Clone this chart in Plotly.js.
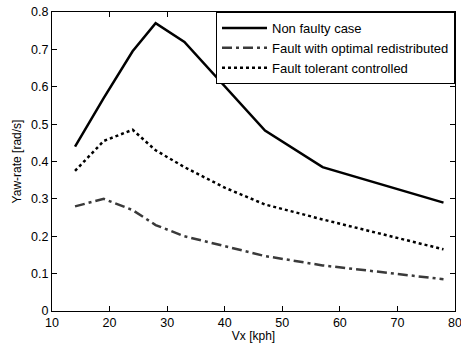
<!DOCTYPE html>
<html><head><meta charset="utf-8">
<script src="https://cdn.plot.ly/plotly-3.0.1.min.js"></script>
<style>body{margin:0;background:#fff}#c{width:461px;height:346px}</style>
</head><body><div id="c"></div>
<script>
const speed = [14, 19, 24, 28, 33, 40, 47, 57, 78];
const nonFaulty = [0.44, 0.57, 0.695, 0.77, 0.72, 0.6, 0.483, 0.385, 0.29];
const optimalRedistributed = [0.28, 0.30, 0.27, 0.23, 0.20, 0.173, 0.147, 0.122, 0.085];
const tolerantControlled = [0.375, 0.455, 0.485, 0.43, 0.385, 0.33, 0.285, 0.245, 0.165];
const seriesNames = ["Non faulty case", "Fault with optimal redistributed", "Fault tolerant controlled"];
const xTicks = [10, 20, 30, 40, 50, 60, 70, 80];
const yTicks = [0, 0.1, 0.2, 0.3, 0.4, 0.5, 0.6, 0.7, 0.8];

const FONT = "Liberation Sans, Arial, sans-serif";
const traces = [
  {x: speed, y: nonFaulty, name: seriesNames[0], mode: "lines", line: {color: "#000", width: 2.5}},
  {x: speed, y: optimalRedistributed, name: seriesNames[1], mode: "lines", line: {color: "#3a3a3a", width: 2.5, dash: "10px,4px,3px,4px"}},
  {x: speed, y: tolerantControlled, name: seriesNames[2], mode: "lines", line: {color: "#000", width: 2.5, dash: "3px,3px"}}
];
const axisCommon = {
  showgrid: false, zeroline: false, showline: true, mirror: "ticks",
  linecolor: "#000", linewidth: 1, ticks: "inside", ticklen: 5, tickcolor: "#000",
  ticklabeloverflow: "allow",
  tickfont: {family: FONT, size: 12.5, color: "#000"}
};
const layout = {
  width: 461, height: 346,
  margin: {l: 52, r: 6, t: 12, b: 35},
  paper_bgcolor: "#fff", plot_bgcolor: "#fff",
  showlegend: true,
  legend: {x: 1, y: 1, xanchor: "right", yanchor: "top", bgcolor: "#fff", bordercolor: "#000", borderwidth: 1,
    font: {family: FONT, size: 13, color: "#000"}, tracegroupgap: 0, itemwidth: 45},
  xaxis: Object.assign({}, axisCommon, {range: [10, 80], tickvals: xTicks, ticktext: xTicks.map(String),
    title: {text: "Vx [kph]", font: {family: FONT, size: 12, color: "#000"}, standoff: 2}}),
  yaxis: Object.assign({}, axisCommon, {range: [0, 0.8], tickvals: yTicks, ticktext: yTicks.map(v => v === 0 ? "0" : v.toFixed(1)),
    title: {text: "Yaw-rate [rad/s]", font: {family: FONT, size: 12, color: "#000"}, standoff: 6}})
};
Plotly.newPlot("c", traces, layout, {displayModeBar: false, staticPlot: true});
</script></body></html>
